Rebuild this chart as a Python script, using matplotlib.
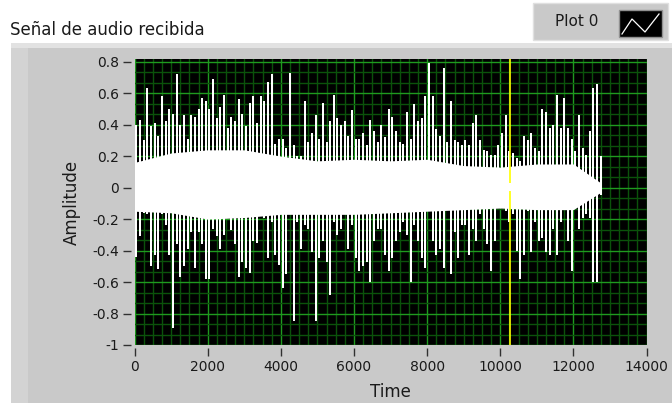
import numpy as np
import matplotlib.pyplot as plt
from matplotlib.patches import Rectangle
from matplotlib.ticker import FixedLocator

# peak values of the received audio, one pair per block of 100 samples
block = 100
top_peaks = [0.40, 0.43, 0.30, 0.63, 0.39, 0.41, 0.33, 0.58, 0.42, 0.50,
             0.47, 0.72, 0.40, 0.46, 0.31, 0.46, 0.45, 0.50, 0.57, 0.55,
             0.50, 0.69, 0.44, 0.51, 0.59, 0.38, 0.45, 0.42, 0.56, 0.47,
             0.39, 0.54, 0.58, 0.41, 0.58, 0.55, 0.67, 0.72, 0.28, 0.31,
             0.31, 0.25, 0.73, 0.27, 0.20, 0.20, 0.55, 0.29, 0.35, 0.46,
             0.31, 0.54, 0.29, 0.42, 0.59, 0.44, 0.40, 0.42, 0.33, 0.49,
             0.31, 0.31, 0.35, 0.27, 0.43, 0.36, 0.29, 0.40, 0.32, 0.50,
             0.45, 0.36, 0.29, 0.28, 0.48, 0.31, 0.53, 0.42, 0.44, 0.58,
             0.79, 0.58, 0.37, 0.33, 0.76, 0.29, 0.55, 0.30, 0.29, 0.27,
             0.30, 0.27, 0.41, 0.46, 0.30, 0.24, 0.23, 0.21, 0.21, 0.27,
             0.35, 0.46, 0.23, 0.22, 0.19, 0.17, 0.33, 0.30, 0.35, 0.25,
             0.23, 0.50, 0.48, 0.38, 0.40, 0.59, 0.38, 0.57, 0.38, 0.31,
             0.23, 0.46, 0.25, 0.21, 0.36, 0.63, 0.66, 0.20]
bottom_peaks = [-0.44, -0.31, -0.16, -0.17, -0.50, -0.43, -0.52, -0.17, -0.24, -0.43,
                -0.89, -0.36, -0.57, -0.50, -0.39, -0.28, -0.51, -0.28, -0.36, -0.58,
                -0.58, -0.26, -0.31, -0.39, -0.30, -0.16, -0.27, -0.36, -0.57, -0.47,
                -0.51, -0.54, -0.34, -0.35, -0.17, -0.19, -0.45, -0.22, -0.43, -0.49,
                -0.64, -0.55, -0.17, -0.85, -0.22, -0.39, -0.24, -0.26, -0.41, -0.85,
                -0.45, -0.34, -0.47, -0.68, -0.22, -0.30, -0.26, -0.17, -0.39, -0.24,
                -0.45, -0.53, -0.50, -0.47, -0.60, -0.34, -0.26, -0.26, -0.43, -0.53,
                -0.45, -0.34, -0.28, -0.22, -0.30, -0.60, -0.24, -0.34, -0.45, -0.51,
                -0.15, -0.34, -0.43, -0.39, -0.51, -0.13, -0.55, -0.28, -0.45, -0.24,
                -0.24, -0.43, -0.26, -0.34, -0.17, -0.26, -0.36, -0.53, -0.34, -0.13,
                -0.11, -0.15, -0.22, -0.17, -0.40, -0.58, -0.43, -0.15, -0.41, -0.22,
                -0.34, -0.32, -0.41, -0.43, -0.26, -0.43, -0.22, -0.13, -0.34, -0.53,
                -0.09, -0.26, -0.19, -0.17, -0.19, -0.60, -0.60, -0.05]

# dense part of the signal around zero
core_time = [0, 1000, 2000, 3000, 4000, 5000, 6000, 7000, 8000, 9000,
             10000, 11000, 12000, 12750]
core_hi = [0.16, 0.22, 0.24, 0.24, 0.20, 0.17, 0.18, 0.17, 0.18, 0.14,
           0.13, 0.15, 0.15, 0.03]
core_lo = [-0.15, -0.16, -0.20, -0.19, -0.17, -0.17, -0.17, -0.16, -0.15, -0.14,
           -0.13, -0.14, -0.14, -0.03]

cursor_x = 10270

x_ticks = [0, 2000, 4000, 6000, 8000, 10000, 12000, 14000]
y_ticks = [-1, -0.8, -0.6, -0.4, -0.2, 0, 0.2, 0.4, 0.6, 0.8]
y_labels = ['-1', '-0.8', '-0.6', '-0.4', '-0.2', '0', '0.2', '0.4', '0.6', '0.8']

W, H = 672, 403
fig = plt.figure(figsize=(W / 100, H / 100), dpi=100)
fig.patch.set_facecolor('white')

# front panel, in pixel units
bg = fig.add_axes([0, 0, 1, 1])
bg.set_xlim(0, W)
bg.set_ylim(H, 0)
bg.axis('off')
bg.add_patch(Rectangle((11, 43), W - 11, H - 43, facecolor='#c9c9c9', edgecolor='none'))
bg.add_patch(Rectangle((11, 43), 17, H - 43, facecolor='#d3d3d3', edgecolor='none'))
bg.add_patch(Rectangle((11, 43), W - 11, 5, facecolor='#e2e2e2', edgecolor='none'))
bg.text(10, 30, 'Señal de audio recibida', fontsize=12, ha='left', va='center',
        color='#1a1a1a')

# plot legend
bg.add_patch(Rectangle((533, 3), 135, 37, facecolor='#c9c9c9', edgecolor='#e0e0e0', lw=1))
bg.text(555, 21, 'Plot 0', fontsize=11, ha='left', va='center', color='#1a1a1a')
bg.add_patch(Rectangle((619, 10), 43, 27, facecolor='black', edgecolor='#909090', lw=1))
bg.plot([622, 632, 645, 659], [34, 19, 32, 14], color='white', lw=0.9)

ax = fig.add_axes([134.5 / W, 1 - 345 / H, 512 / W, (345 - 59) / H])
ax.set_facecolor('black')
ax.set_xlim(0, 14000)
ax.set_ylim(-1, 0.817)

ax.xaxis.set_major_locator(FixedLocator(x_ticks))
ax.yaxis.set_major_locator(FixedLocator(y_ticks))
ax.set_yticklabels(y_labels)
ax.xaxis.set_minor_locator(FixedLocator(np.arange(0, 14001, 250)))
ax.yaxis.set_minor_locator(FixedLocator(np.linspace(-1, 0.8, 28)))
ax.grid(which='minor', color='#0b520b', lw=1, zorder=0)
ax.grid(which='major', color='#1f9a1f', lw=1, zorder=1)
ax.set_axisbelow(True)

for side in ['left', 'bottom']:
    ax.spines[side].set_position(('outward', 2.5))
for s in ax.spines.values():
    s.set_visible(False)
ax.tick_params(which='major', length=5.5, width=1, color='#303030', labelsize=10,
               labelcolor='#1a1a1a', pad=3)
ax.tick_params(which='minor', length=0)

# waveform: one min/max column per block
t = np.arange(len(top_peaks)) * block + block / 2
ax.fill_between(core_time, core_lo, core_hi, color='white', lw=0, zorder=3)
ax.vlines(t, bottom_peaks, top_peaks, color='white', lw=1.1, zorder=3,
          antialiased=False)

ax.axvline(cursor_x, color='#ffff00', lw=1.2, zorder=4)
ax.vlines(cursor_x, -0.02, 0.03, color='white', lw=1.6, zorder=5)

ax.set_xlabel('Time', fontsize=12, color='#1a1a1a', labelpad=6)
ax.set_ylabel('Amplitude', fontsize=12, color='#1a1a1a', labelpad=8)

fig.savefig('out.png', dpi=100, facecolor=fig.get_facecolor())
